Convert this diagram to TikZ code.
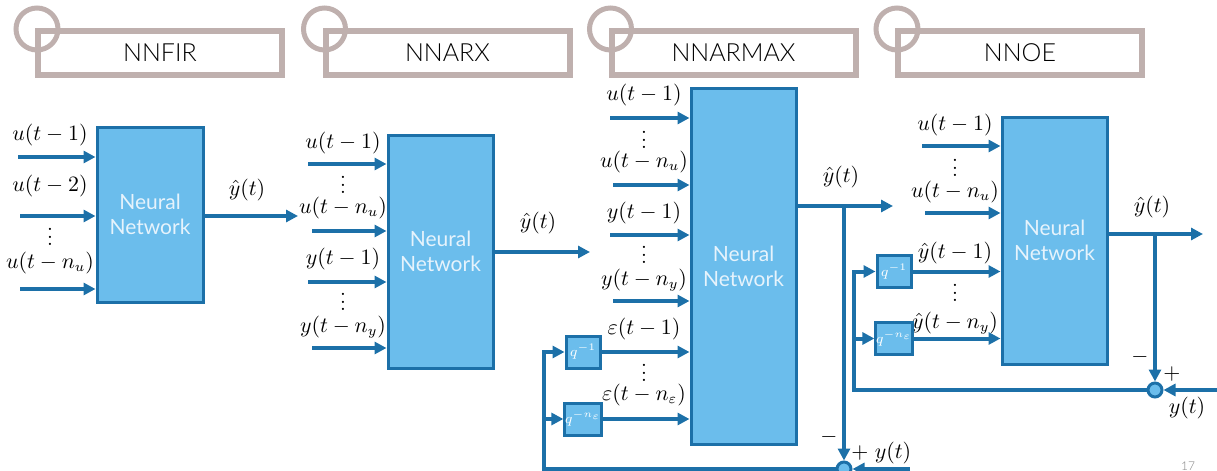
\documentclass[tikz,border=0pt]{standalone}
\usepackage{fontspec}
\newfontfamily\labfont{Lato Light}
\newfontfamily\nnfont{Lato}
\usepackage{tikz}
\usetikzlibrary{arrows.meta,positioning,calc}

\definecolor{nnfill}{HTML}{6BBDEC}
\definecolor{nnedge}{HTML}{1C70A8}
\definecolor{ttlgray}{HTML}{BFB0AE}
\definecolor{nntext}{HTML}{E6F3FC}

\newcommand\vdts{\vbox{\baselineskip3.6pt\lineskiplimit0pt\hbox{.}\hbox{.}\hbox{.}}}

\tikzset{
  nnbox/.style={draw=nnedge,fill=nnfill,line width=1.5pt,inner sep=0pt,align=center,
    text=nntext,font=\nnfont\fontsize{10.5}{12.5}\selectfont},
  dlybox/.style={draw=nnedge,fill=nnfill,line width=1.5pt,inner sep=0pt,
    minimum width=17pt,minimum height=16pt,text=white,font=\scriptsize},
  sumj/.style={circle,draw=nnedge,fill=nnfill,line width=1.5pt,inner sep=0pt,minimum size=7pt},
  sig/.style={draw=nnedge,line width=2pt,-{Triangle[length=6pt,width=6pt]}},
  lbl/.style={font=\fontsize{10.5}{12}\selectfont,inner sep=0pt},
  ttlbox/.style={draw=ttlgray,line width=3pt,minimum width=122pt,minimum height=22pt,
    font=\labfont\fontsize{12.5}{14}\selectfont},
  ttlring/.style={draw=ttlgray,line width=2.5pt},
}

\begin{document}
\begin{tikzpicture}[x=0.5pt,y=-0.5pt]
  \useasboundingbox (0,0) rectangle (1217,471);

  % title boxes
  \foreach \nm/\cx/\txt in {tfir/160/NNFIR,tarx/447.5/NNARX,tarmax/733.5/NNARMAX,toe/1020/NNOE}{
    \draw[ttlring] ($(\cx,53)+(-123,-24)$) circle (21);
    \node[ttlbox] (\nm) at (\cx,53) {\txt};
  }

  % NNFIR
  \node[nnbox,minimum width=53pt,minimum height=87.5pt] (fir) at (150,214.5) {Neural\\Network};
  \foreach \i/\yy/\xx in {1/157/18,2/216/20,3/289/20}{
    \coordinate (firin\i) at (\xx,\yy);
    \draw[sig] (firin\i) -- (firin\i -| fir.west);
  }
  \foreach \nm/\yy/\txt in {firl1/135/{$u(t-1)$},firl2/186/{$u(t-2)$},firl3/237/{\vdts},firl4/263/{$u(t-n_u)$}}{
    \node[lbl] (\nm) at (50,\yy) {\txt};
  }
  \coordinate (firout) at (298,216);
  \draw[sig] (firout -| fir.east) -- (firout);
  \node[lbl] (firy) at (247,190) {$\hat{y}(t)$};

  % NNARX
  \node[nnbox,minimum width=52.5pt,minimum height=116.5pt] (arx) at (440.5,251.5) {Neural\\Network};
  \foreach \i/\yy/\xx in {1/164/308,2/231/312,3/282/308,4/348/312}{
    \coordinate (arxin\i) at (\xx,\yy);
    \draw[sig] (arxin\i) -- (arxin\i -| arx.west);
  }
  \foreach \nm/\yy/\txt in {arxl1/143/{$u(t-1)$},arxl2/185/{\vdts},arxl3/208/{$u(t-n_u)$},
      arxl4/259/{$y(t-1)$},arxl5/302/{\vdts},arxl6/327/{$y\bigl(t-n_y\bigr)$}}{
    \node[lbl] (\nm) at (343,\yy) {\txt};
  }
  \coordinate (arxout) at (590,252);
  \draw[sig] (arxout -| arx.east) -- (arxout);
  \node[lbl] (arxy) at (538,223) {$\hat{y}(t)$};

  % NNARMAX
  \node[nnbox,minimum width=52.5pt,minimum height=178pt] (armax) at (743.5,266) {Neural\\Network};
  \foreach \i/\yy/\xx in {1/118/610,2/185/613,3/235/610,4/301/613}{
    \coordinate (armin\i) at (\xx,\yy);
    \draw[sig] (armin\i) -- (armin\i -| armax.west);
  }
  \foreach \nm/\yy/\txt in {arml1/95/{$u(t-1)$},arml2/140/{\vdts},arml3/162/{$u(t-n_u)$},
      arml4/213/{$y(t-1)$},arml5/255/{\vdts},arml6/280/{$y\bigl(t-n_y\bigr)$},
      arml7/329/{$\varepsilon(t-1)$},arml8/373/{\vdts},arml9/395/{$\varepsilon(t-n_\varepsilon)$}}{
    \node[lbl] (\nm) at (644,\yy) {\txt};
  }
  \node[dlybox] (armq1) at (583,352) {$q^{-1}$};
  \node[dlybox] (armq2) at (583,419) {$q^{-n_\varepsilon}$};
  \draw[sig] (armq1) -- (armq1 -| armax.west);
  \draw[sig] (armq2) -- (armq2 -| armax.west);
  \node[sumj] (armsum) at (844,469) {};
  \coordinate (armbr) at (844,206);
  \coordinate (armout) at (893,206);
  \draw[sig] (armbr -| armax.east) -- (armout);
  \draw[sig] (armbr) -- (armsum.north);
  \node[lbl] (army) at (841,177) {$\hat{y}(t)$};
  \coordinate (armyt) at (910,469);
  \draw[sig] (armyt) -- (armsum.east);
  \coordinate (armfb) at (544,469);
  \draw[sig] (armsum.west) -- (armfb) -- (armfb |- armq1) -- (armq1.west);
  \draw[sig] (armfb |- armq2) -- (armq2.west);
  \node[lbl] (armmin) at (829,437) {$-$};
  \node[lbl] (armpl) at (860,453) {$+$};
  \node[lbl] (armylab) at (893,453) {$y(t)$};

  % NNOE
  \node[nnbox,minimum width=52.5pt,minimum height=123.5pt] (oe) at (1054.5,240.5) {Neural\\Network};
  \foreach \i/\yy/\xx in {1/146/922,2/213/925}{
    \coordinate (oein\i) at (\xx,\yy);
    \draw[sig] (oein\i) -- (oein\i -| oe.west);
  }
  \foreach \nm/\yy/\txt in {oel1/125/{$u(t-1)$},oel2/168/{\vdts},oel3/192/{$u(t-n_u)$},
      oel4/253/{$\hat{y}(t-1)$},oel5/293/{\vdts},oel6/323/{$\hat{y}\bigl(t-n_y\bigr)$}}{
    \node[lbl] (\nm) at (955,\yy) {\txt};
  }
  \node[dlybox] (oeq1) at (894,271.5) {$q^{-1}$};
  \node[dlybox] (oeq2) at (894,338.5) {$q^{-n_\varepsilon}$};
  \draw[sig] (oeq1) -- (oeq1 -| oe.west);
  \draw[sig] (oeq2) -- (oeq2 -| oe.west);
  \node[sumj] (oesum) at (1155,390) {};
  \coordinate (oebr) at (1155,234);
  \coordinate (oeout) at (1203,234);
  \draw[sig] (oebr -| oe.east) -- (oeout);
  \draw[sig] (oebr) -- (oesum.north);
  \node[lbl] (oey) at (1152,207) {$\hat{y}(t)$};
  \coordinate (oeyt) at (1217,390);
  \draw[sig] (oeyt) -- (oesum.east);
  \coordinate (oefb) at (854,390);
  \draw[sig] (oesum.west) -- (oefb) -- (oefb |- oeq1) -- (oeq1.west);
  \draw[sig] (oefb |- oeq2) -- (oeq2.west);
  \node[lbl] (oemin) at (1140,357) {$-$};
  \node[lbl] (oepl) at (1172,374) {$+$};
  \node[lbl] (oeylab) at (1187,408) {$y(t)$};

  \node[text=gray,font=\labfont\fontsize{6}{7}\selectfont] (pgno) at (1188,466) {17};
\end{tikzpicture}
\end{document}
